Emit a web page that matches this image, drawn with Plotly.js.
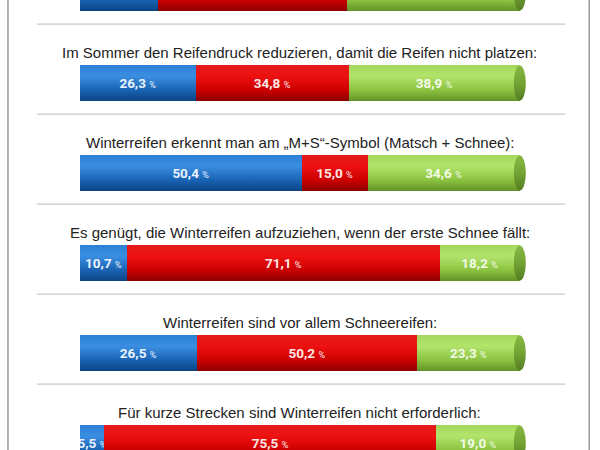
<!DOCTYPE html>
<html>
<head>
<meta charset="utf-8">
<script src="https://cdn.plot.ly/plotly-3.0.1.min.js"></script>
<style>
  html, body { margin: 0; padding: 0; background: #fff; }
  #chart { width: 600px; height: 450px; }
</style>
</head>
<body>
<div id="chart"></div>
<script>
// Fragen (die oberste ist im Bild abgeschnitten)
var questions = [
  ' ',
  'Im Sommer den Reifendruck reduzieren, damit die Reifen nicht platzen:',
  'Winterreifen erkennt man am „M+S“-Symbol (Matsch + Schnee):',
  'Es genügt, die Winterreifen aufzuziehen, wenn der erste Schnee fällt:',
  'Winterreifen sind vor allem Schneereifen:',
  'Für kurze Strecken sind Winterreifen nicht erforderlich:'
];
var blueValues = [17.8, 26.3, 50.4, 10.7, 26.5, 5.5];
var redValues = [42.8, 34.8, 15.0, 71.1, 50.2, 75.5];
var greenValues = [39.4, 38.9, 34.6, 18.2, 23.3, 19.0];

var labelTpl = '<b>%{x:.1f}</b> <span style="font-size:9px">%</span>';

function makeTrace(name, values, color, textColor) {
  return {
    type: 'bar',
    orientation: 'h',
    name: name,
    x: values,
    y: questions,
    marker: { color: color, line: { width: 0 } },
    texttemplate: labelTpl,
    textposition: 'inside',
    insidetextanchor: 'middle',
    constraintext: 'none',
    textangle: 0,
    textfont: { family: 'Roboto, Arial, sans-serif', size: 13.5, color: textColor },
    hoverinfo: 'skip'
  };
}

var data = [
  makeTrace('blau', blueValues, '#1f6fc5', '#eaf2ff'),
  makeTrace('rot', redValues, '#dd0000', '#fde8e8'),
  makeTrace('grün', greenValues, '#93cc46', '#f2fbe6')
];

// Fragen als Titel über den Balken, Trennlinien, Endkappen
var annotations = [];
var shapes = [];
questions.forEach(function(q, i) {
  if (q.trim() !== '') {
    annotations.push({
      xref: 'x', yref: 'y', x: 50, y: q,
      yshift: 30,
      text: q, showarrow: false,
      font: { family: 'Liberation Sans, Arial, sans-serif', size: 15, color: '#222' }
    });
  }
  shapes.push({
    type: 'circle', xref: 'x', yref: 'y',
    xsizemode: 'pixel', xanchor: 100, x0: -6, x1: 6,
    y0: i - 0.195, y1: i + 0.195,
    fillcolor: '#74a532', line: { width: 0 }, layer: 'above'
  });
  if (i > 0) {
    shapes.push({
      type: 'line', xref: 'paper', yref: 'y',
      x0: -0.095, x1: 1.071, y0: i - 0.655, y1: i - 0.655,
      line: { color: '#c8c8c8', width: 1.2 }
    });
  }
});
// graue Rahmenlinien links und rechts
shapes.push({ type: 'line', xref: 'paper', yref: 'paper', x0: -0.159, x1: -0.159, y0: 0, y1: 1,
  line: { color: '#9a9a9a', width: 1.5 } });
shapes.push({ type: 'line', xref: 'paper', yref: 'paper', x0: 1.124, x1: 1.124, y0: 0, y1: 1,
  line: { color: '#9a9a9a', width: 1.5 } });

var layout = {
  width: 600,
  height: 450,
  margin: { l: 80, r: 67, t: 0, b: 0 },
  barmode: 'stack',
  bargap: 0.61,
  separators: ',.',
  showlegend: false,
  hovermode: false,
  paper_bgcolor: '#ffffff',
  plot_bgcolor: '#ffffff',
  xaxis: { range: [0, 103], visible: false, fixedrange: true },
  yaxis: { range: [5.078, 0.078], showticklabels: false, showgrid: false,
           zeroline: false, showline: false, ticks: '', fixedrange: true },
  annotations: annotations,
  shapes: shapes
};

Plotly.newPlot('chart', data, layout, { displayModeBar: false, staticPlot: true }).then(function(gd) {
  // Zylinder-Optik: Farbverläufe in die Balken legen
  var svgNS = 'http://www.w3.org/2000/svg';
  var defs = gd.querySelector('.main-svg defs');
  var grads = {
    gBlue: [['0', '#2c80d6'], ['0.3', '#3b8fe2'], ['0.7', '#1a63b3'], ['1', '#0b4686']],
    gRed: [['0', '#e41a1a'], ['0.3', '#ee1111'], ['0.7', '#cc0000'], ['1', '#8e0000']],
    gGreen: [['0', '#a3d85a'], ['0.3', '#b2e46c'], ['0.7', '#8cc340'], ['1', '#65942a']],
    gCap: [['0', '#86b843'], ['0.5', '#73a334'], ['1', '#557d22']]
  };
  Object.keys(grads).forEach(function(id) {
    var lg = document.createElementNS(svgNS, 'linearGradient');
    lg.setAttribute('id', id);
    lg.setAttribute('x1', '0'); lg.setAttribute('y1', '0');
    lg.setAttribute('x2', '0'); lg.setAttribute('y2', '1');
    grads[id].forEach(function(s) {
      var st = document.createElementNS(svgNS, 'stop');
      st.setAttribute('offset', s[0]);
      st.setAttribute('stop-color', s[1]);
      lg.appendChild(st);
    });
    defs.appendChild(lg);
  });
  var ids = ['gBlue', 'gRed', 'gGreen'];
  gd.querySelectorAll('.barlayer .trace').forEach(function(tr, k) {
    tr.querySelectorAll('path').forEach(function(p) {
      p.style.fill = 'url(#' + ids[k] + ')';
    });
  });
  gd.querySelectorAll('.shapelayer path').forEach(function(p) {
    if (p.style.fill && p.style.fill.indexOf('116, 165, 50') !== -1) {
      p.style.fill = 'url(#gCap)';
    }
  });
});
</script>
</body>
</html>
